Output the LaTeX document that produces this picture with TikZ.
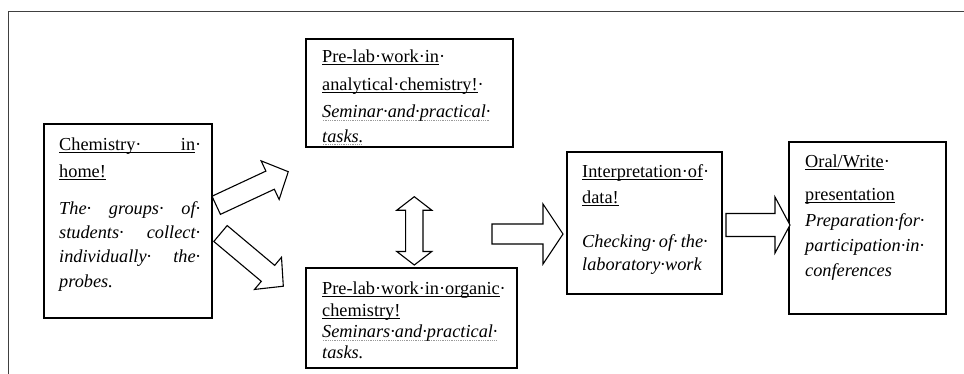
\documentclass[tikz,border=0pt]{standalone}
\usepackage{fontspec}
\setmainfont{Liberation Serif}
\newcommand\fsz{\fontsize{18.3pt}{22pt}\selectfont}
\newcommand\ulx[1]{\setbox2\hbox{#1}\rlap{\rule[-2.6pt]{\wd2}{0.9pt}}\box2}
\newcommand\dotulx[1]{\setbox2\hbox{#1}\rlap{\color{black!40}\hbox to \wd2{\leaders\hbox to 1.8pt{\hss\rule[-3pt]{0.6pt}{0.6pt}\hss}\hfill}}\box2}
\tikzset{
  box/.style={draw=black, line width=1.3pt, fill=white, inner sep=0pt},
  ln/.style={anchor=base west, inner sep=0pt, font=\fsz},
  arrowshape/.style={draw=black, line width=1.1pt, fill=white, line join=miter},
  frame/.style={draw=black!75, line width=0.8pt}
}
% tail point, angle, length, shaft half-width, head half-width, head length
\newcommand\barrow[6]{%
  \begin{scope}[shift={(#1)},rotate=#2]
    \draw[arrowshape] (0,#4) -- ({#3-#6},#4) -- ({#3-#6},#5) -- (#3,0)
      -- ({#3-#6},-#5) -- ({#3-#6},-#4) -- (0,-#4) -- cycle;
  \end{scope}}
\begin{document}
\begin{tikzpicture}[x=1pt,y=-1pt]
\useasboundingbox (0,0) rectangle (964,373);
\fill[white] (0,0) rectangle (964,373);
% outer frame
\draw[frame] (8,380) -- (8,11) -- (970,11);

% boxes
\node[box, minimum width=168pt, minimum height=194pt] (A) at (128,221) {};
\node[box, minimum width=207pt, minimum height=108pt] (B) at (409.5,93) {};
\node[box, minimum width=211pt, minimum height=100pt] (C) at (411.5,318) {};
\node[box, minimum width=155pt, minimum height=142pt] (D) at (644.5,223) {};
\node[box, minimum width=157pt, minimum height=172pt] (E) at (867.5,228) {};

% block arrows
\barrow{216.2,205.3}{25}{79.5}{10}{21.3}{20}
\barrow{220.5,233.5}{-40}{82}{10.4}{21}{20}
\barrow{492,234}{0}{71}{10}{30}{20}
\barrow{726,225}{0}{64}{11.5}{28}{15}
\draw[arrowshape] (414.3,196.7) -- (431.8,210.2) -- (423,210.2) -- (423,251.5)
  -- (431.8,251.5) -- (414.3,265) -- (396.8,251.5) -- (405.6,251.5)
  -- (405.6,210.2) -- (396.8,210.2) -- cycle;

% box A text
\node[ln] (a1) at (59,150) {\ulx{\makebox[136pt][s]{Chemistry· in}}·};
\node[ln] (a2) at (59,177) {\ulx{home!}};
\node[ln] (a3) at (59,214) {\makebox[141pt][s]{\itshape The· groups· of·}};
\node[ln] (a4) at (59,238.5) {\makebox[141pt][s]{\itshape students· collect·}};
\node[ln] (a5) at (59,262.5) {\makebox[141pt][s]{\itshape individually· the·}};
\node[ln] (a6) at (59,287) {\itshape probes.};

% box B text
\node[ln] (b1) at (322,62) {\ulx{Pre-lab·work·in}·};
\node[ln] (b2) at (322,90) {\ulx{analytical·chemistry!}·};
\node[ln] (b3) at (322,117.5) {\dotulx{\itshape Seminar·and·practical·}};
\node[ln] (b4) at (322,142) {\dotulx{\itshape tasks.}};

% box C text
\node[ln] (c1) at (322,294) {\ulx{Pre-lab·work·in·organic}·};
\node[ln] (c2) at (322,316.5) {\ulx{chemistry!}};
\node[ln] (c3) at (322,337.5) {\dotulx{\itshape Seminars·and·practical·}};
\node[ln] (c4) at (322,358.5) {\itshape tasks.};

% box D text
\node[ln] (d1) at (582,177) {\ulx{Interpretation·of}·};
\node[ln] (d2) at (582,203) {\ulx{data!}};
\node[ln] (d3) at (582,247) {\makebox[125pt][s]{\itshape Checking· of· the·}};
\node[ln] (d4) at (582,270) {\itshape laboratory·work};

% box E text
\node[ln] (e1) at (805,167) {\ulx{Oral/Write}·};
\node[ln] (e2) at (805,200) {\ulx{presentation}};
\node[ln] (e3) at (805,226.5) {\itshape Preparation·for·};
\node[ln] (e4) at (805,251.5) {\itshape participation·in·};
\node[ln] (e5) at (805,276.5) {\itshape conferences};
\end{tikzpicture}
\end{document}
